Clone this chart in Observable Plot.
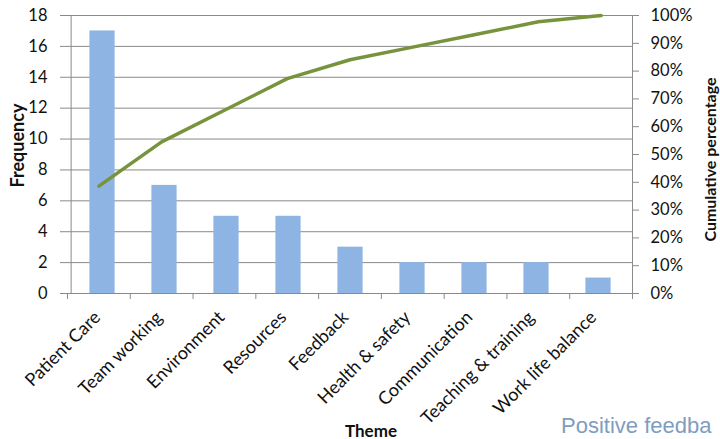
<!DOCTYPE html>
<html>
<head>
<meta charset="utf-8">
<script src="https://cdn.jsdelivr.net/npm/d3@7"></script>
<script src="https://cdn.jsdelivr.net/npm/@observablehq/plot@0.6"></script>
<style>
  html, body { margin: 0; padding: 0; background: #ffffff; }
  #chart { position: relative; width: 720px; height: 439px; overflow: hidden; }
  #chart svg { position: absolute; left: 0; top: 0; }
  #note { position: absolute; left: 561px; top: 413px; font-family: "Liberation Sans", Arial, sans-serif; font-size: 22px; color: #7f9dbf; white-space: nowrap; }
</style>
</head>
<body>
<div id="chart"></div>
<script>
// ---- data ----
const themes = ["Patient Care", "Team working", "Environment", "Resources", "Feedback", "Health & safety", "Communication", "Teaching & training", "Work life balance"];
const frequency = [17, 7, 5, 5, 3, 2, 2, 2, 1];
const leftTicks = [0, 2, 4, 6, 8, 10, 12, 14, 16, 18];
const rightTicks = [0, 10, 20, 30, 40, 50, 60, 70, 80, 90, 100];
const xTitle = "Theme";
const yTitle = "Frequency";
const y2Title = "Cumulative percentage";
const noteText = "Positive feedba";

// ---- derived table ----
const total = d3.sum(frequency);
let run = 0;
const rows = themes.map((t, i) => {
  run += frequency[i];
  return { theme: t, idx: i, freq: frequency[i], cum: run / total * 100 };
});

// ---- layout ----
const W = 720, H = 439;
const M = { top: 15, right: 88, bottom: 146, left: 67 };
const step = (W - M.left - M.right) / themes.length;
const barW = 26;
const grid = "#8a8a8a";
const font = "Lato, 'Open Sans', sans-serif";

const p1 = Plot.plot({
  width: W, height: H,
  marginTop: M.top, marginRight: M.right, marginBottom: M.bottom, marginLeft: M.left,
  style: { fontFamily: font, fontSize: "16px", background: "transparent", color: "#111", overflow: "visible" },
  x: { type: "band", domain: themes, padding: 0, axis: null },
  y: { domain: [0, 18], axis: null },
  marks: [
    Plot.ruleY(leftTicks.filter(d => d > 0), { stroke: grid, strokeWidth: 1 }),
    Plot.barY(rows, { x: "theme", y: "freq", fill: "#8eb4e3", insetLeft: (step - barW) / 2, insetRight: (step - barW) / 2 }),
    Plot.ruleY([0], { stroke: grid, strokeWidth: 1 }),
    Plot.axisY({ ticks: leftTicks, tickSize: 7, tickPadding: 13, stroke: grid, fill: "#111", label: null, fontSize: 16.5 }),
    Plot.ruleX([0], { x: () => themes[0], dx: -step / 2, stroke: grid }),
    Plot.text(themes, { x: d => d, frameAnchor: "bottom", rotate: -45, textAnchor: "end", dx: -1, dy: 25, fontSize: 18, fill: "#111" }),
    Plot.text([xTitle], { frameAnchor: "bottom", textAnchor: "middle", lineAnchor: "bottom", dx: 21, dy: 143, fontWeight: "bold", fontSize: 17, fill: "#111" }),
    Plot.text([yTitle], { frameAnchor: "left", textAnchor: "middle", lineAnchor: "middle", rotate: -90, dx: -49, dy: -9, fontWeight: "bold", fontSize: 18, fill: "#111" })
  ]
});

const p2 = Plot.plot({
  width: W, height: H,
  marginTop: M.top, marginRight: M.right, marginBottom: M.bottom, marginLeft: M.left,
  style: { fontFamily: font, fontSize: "16px", background: "transparent", color: "#111", overflow: "visible" },
  x: { type: "linear", domain: [0, themes.length], axis: null },
  y: { domain: [0, 100], axis: null },
  marks: [
    Plot.ruleX([themes.length], { stroke: grid }),
    Plot.axisX({ ticks: d3.range(themes.length + 1), tickSize: 6, tickFormat: () => "", stroke: grid, label: null }),
    Plot.axisY({ anchor: "right", ticks: rightTicks, tickSize: 6, tickPadding: 12, tickFormat: d => d + "%", stroke: grid, fill: "#111", label: null, fontSize: 16.5 }),
    Plot.line(rows, { x: d => d.idx + 0.5, y: "cum", stroke: "#77933c", strokeWidth: 3.5, strokeLinejoin: "round", strokeLinecap: "round" }),
    Plot.text([y2Title], { frameAnchor: "right", textAnchor: "middle", lineAnchor: "middle", rotate: -90, dx: 78, dy: 5, fontWeight: "bold", fontSize: 16, fill: "#111" })
  ]
});

const el = document.getElementById("chart");
el.appendChild(p1);
el.appendChild(p2);
const note = document.createElement("div");
note.id = "note";
note.textContent = noteText;
el.appendChild(note);
</script>
</body>
</html>
